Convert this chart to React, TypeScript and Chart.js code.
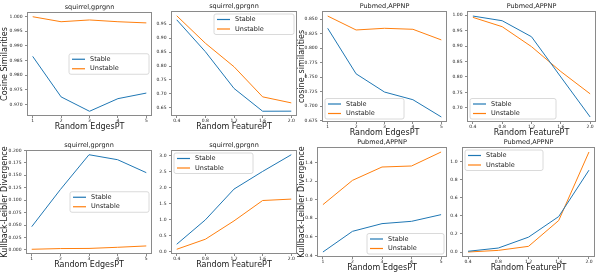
import React, { useEffect, useRef } from "react";
import { Chart, registerables } from "chart.js";

Chart.register(...registerables);

// ---------- data ----------
const edgesX = [1, 2, 3, 4, 5];
const featureX = [0.4, 0.8, 1.2, 1.6, 2.0];
const edgesTickLabels = ["1", "2", "3", "4", "5"];
const featureTickLabels = ["0.4", "0.8", "1.2", "1.6", "2.0"];
const seriesNames = ["Stable", "Unstable"];

const sqCosEdgesStable = [0.9864, 0.9726, 0.9677, 0.972, 0.9739];
const sqCosEdgesUnstable = [0.9999, 0.9982, 0.9988, 0.9982, 0.9978];
const sqCosFeatStable = [0.9655, 0.8514, 0.7198, 0.6381, 0.6383];
const sqCosFeatUnstable = [0.98, 0.8817, 0.7975, 0.6896, 0.668];
const pmCosEdgesStable = [0.834, 0.7556, 0.7242, 0.711, 0.6813];
const pmCosEdgesUnstable = [0.8551, 0.8311, 0.834, 0.8323, 0.814];
const pmCosFeatStable = [0.9968, 0.9817, 0.93, 0.8, 0.671];
const pmCosFeatUnstable = [0.9926, 0.9624, 0.898, 0.8177, 0.7457];
const sqKlEdgesStable = [0.0467, 0.1213, 0.1913, 0.1813, 0.1553];
const sqKlEdgesUnstable = [0.0013, 0.0027, 0.003, 0.0053, 0.008];
const sqKlFeatStable = [0.232, 0.994, 1.956, 2.508, 3.03];
const sqKlFeatUnstable = [0.075, 0.389, 0.962, 1.599, 1.643];
const pmKlEdgesStable = [0.436, 0.659, 0.742, 0.767, 0.839];
const pmKlEdgesUnstable = [0.947, 1.209, 1.353, 1.364, 1.515];
const pmKlFeatStable = [0.008, 0.044, 0.165, 0.394, 0.909];
const pmKlFeatUnstable = [0.0, 0.018, 0.063, 0.35, 1.111];

const yTicksSqCosEdges = ["0.970", "0.975", "0.980", "0.985", "0.990", "0.995", "1.000"];
const yTicksSqCosFeat = ["0.65", "0.70", "0.75", "0.80", "0.85", "0.90", "0.95"];
const yTicksPmCosEdges = ["0.675", "0.700", "0.725", "0.750", "0.775", "0.800", "0.825", "0.850"];
const yTicksPmCosFeat = ["0.70", "0.75", "0.80", "0.85", "0.90", "0.95", "1.00"];
const yTicksSqKlEdges = ["0.000", "0.025", "0.050", "0.075", "0.100", "0.125", "0.150", "0.175", "0.200"];
const yTicksSqKlFeat = ["0.0", "0.5", "1.0", "1.5", "2.0", "2.5", "3.0"];
const yTicksPmKlEdges = ["0.4", "0.6", "0.8", "1.0", "1.2", "1.4"];
const yTicksPmKlFeat = ["0.0", "0.2", "0.4", "0.6", "0.8", "1.0"];

// ---------- styling ----------
const FAMILY = '"DejaVu Sans", sans-serif';
const TXT = "#1a1a1a";
const FRAME = "#8a8a8a";
const C0 = "#1f77b4";
const C1 = "#ff7f0e";
const PAD_T = 14;
const PAD_R = 8;
const PAD_B = 16;

type Panel = {
  rect: [number, number, number, number];
  padL: number;
  title: string;
  xLabel: string;
  yLabel?: string;
  xs: number[];
  xTicks: string[];
  yTicks: string[];
  stable: number[];
  unstable: number[];
  legendLoc: string;
  legendW: number;
};

const panels: Panel[] = [
  { rect: [27, 12, 152, 116], padL: 27, title: "squirrel,gprgnn", xLabel: "Random EdgesPT", yLabel: "Cosine Similarities", xs: edgesX, xTicks: edgesTickLabels, yTicks: yTicksSqCosEdges, stable: sqCosEdgesStable, unstable: sqCosEdgesUnstable, legendLoc: "center right", legendW: 80 },
  { rect: [171, 11, 297, 116], padL: 20, title: "squirrel,gprgnn", xLabel: "Random FeaturePT", xs: featureX, xTicks: featureTickLabels, yTicks: yTicksSqCosFeat, stable: sqCosFeatStable, unstable: sqCosFeatUnstable, legendLoc: "upper right", legendW: 80 },
  { rect: [322, 11, 447, 122], padL: 25, title: "Pubmed,APPNP", xLabel: "Random EdgesPT", yLabel: "cosine_similarities", xs: edgesX, xTicks: edgesTickLabels, yTicks: yTicksPmCosEdges, stable: pmCosEdgesStable, unstable: pmCosEdgesUnstable, legendLoc: "lower left", legendW: 79 },
  { rect: [467, 11, 596, 122], padL: 20, title: "Pubmed,APPNP", xLabel: "Random FeaturePT", xs: featureX, xTicks: featureTickLabels, yTicks: yTicksPmCosFeat, stable: pmCosFeatStable, unstable: pmCosFeatUnstable, legendLoc: "lower left", legendW: 86 },
  { rect: [26, 150, 152, 254], padL: 26, title: "squirrel,gprgnn", xLabel: "Random EdgesPT", yLabel: "Kullback-Leibler Divergence", xs: edgesX, xTicks: edgesTickLabels, yTicks: yTicksSqKlEdges, stable: sqKlEdgesStable, unstable: sqKlEdgesUnstable, legendLoc: "center right", legendW: 79 },
  { rect: [171, 150, 297, 254], padL: 20, title: "squirrel,gprgnn", xLabel: "Random FeaturePT", xs: featureX, xTicks: featureTickLabels, yTicks: yTicksSqKlFeat, stable: sqKlFeatStable, unstable: sqKlFeatUnstable, legendLoc: "upper left", legendW: 79 },
  { rect: [317, 147, 447, 257], padL: 20, title: "Pubmed,APPNP", xLabel: "Random EdgesPT", yLabel: "Kullback-Leibler Divergence", xs: edgesX, xTicks: edgesTickLabels, yTicks: yTicksPmKlEdges, stable: pmKlEdgesStable, unstable: pmKlEdgesUnstable, legendLoc: "lower right", legendW: 77 },
  { rect: [462, 147, 595, 257], padL: 20, title: "Pubmed,APPNP", xLabel: "Random FeaturePT", xs: featureX, xTicks: featureTickLabels, yTicks: yTicksPmKlFeat, stable: pmKlFeatStable, unstable: pmKlFeatUnstable, legendLoc: "upper left", legendW: 78 },
];

const extrasPlugin = {
  id: "extras",
  afterDatasetsDraw(chart: any, _args: any, opts: any) {
    const { ctx, chartArea: a } = chart;
    ctx.save();
    // frame
    ctx.strokeStyle = FRAME;
    ctx.lineWidth = 1;
    ctx.strokeRect(a.left + 0.5, a.top + 0.5, a.right - a.left - 1, a.bottom - a.top - 1);
    // title
    ctx.fillStyle = TXT;
    ctx.font = `6.5px ${FAMILY}`;
    ctx.textAlign = "center";
    ctx.textBaseline = "middle";
    ctx.fillText(opts.title, (a.left + a.right) / 2, a.top - 5);
    // legend
    const w = opts.legendW;
    const h = 20.5;
    const pad = 3;
    const loc: string = opts.legendLoc;
    let bx = a.left + pad;
    let by = a.top + pad;
    if (loc.includes("right")) bx = a.right - pad - w;
    if (loc.includes("lower")) by = a.bottom - pad - h;
    if (loc.startsWith("center")) by = (a.top + a.bottom) / 2 - h / 2;
    ctx.beginPath();
    const r = 2;
    ctx.moveTo(bx + r, by);
    ctx.lineTo(bx + w - r, by);
    ctx.quadraticCurveTo(bx + w, by, bx + w, by + r);
    ctx.lineTo(bx + w, by + h - r);
    ctx.quadraticCurveTo(bx + w, by + h, bx + w - r, by + h);
    ctx.lineTo(bx + r, by + h);
    ctx.quadraticCurveTo(bx, by + h, bx, by + h - r);
    ctx.lineTo(bx, by + r);
    ctx.quadraticCurveTo(bx, by, bx + r, by);
    ctx.closePath();
    ctx.fillStyle = "rgba(255,255,255,0.8)";
    ctx.fill();
    ctx.strokeStyle = "#d0d0d0";
    ctx.lineWidth = 0.8;
    ctx.stroke();
    chart.data.datasets.forEach((ds: any, i: number) => {
      const y = by + 5.5 + i * 9.5;
      ctx.strokeStyle = ds.borderColor;
      ctx.lineWidth = 1.2;
      ctx.beginPath();
      ctx.moveTo(bx + 3, y);
      ctx.lineTo(bx + 16, y);
      ctx.stroke();
      ctx.fillStyle = TXT;
      ctx.font = `6.5px ${FAMILY}`;
      ctx.textAlign = "left";
      ctx.textBaseline = "middle";
      ctx.fillText(ds.label, bx + 21, y);
    });
    ctx.restore();
  },
};

function PanelChart({ p }: { p: Panel }) {
  const ref = useRef<HTMLCanvasElement | null>(null);
  const [l, t, r, b] = p.rect;
  const W = r - l + p.padL + PAD_R;
  const H = b - t + PAD_T + PAD_B;

  useEffect(() => {
    if (!ref.current) return;
    const all = [...p.stable, ...p.unstable];
    const lo = Math.min(...all);
    const hi = Math.max(...all);
    const my = (hi - lo) * 0.05;
    const xlo = Math.min(...p.xs);
    const xhi = Math.max(...p.xs);
    const mx = (xhi - xlo) * 0.05;
    const xTickVals = p.xTicks.map((s) => parseFloat(s));
    const yTickVals = p.yTicks.map((s) => parseFloat(s));
    const tickFont = { size: 4.5, family: FAMILY, lineHeight: 1.2 };
    const labelFont = { size: 8, family: FAMILY, lineHeight: 1.2 };
    const chart = new Chart(ref.current, {
      type: "line",
      data: {
        datasets: [
          { label: seriesNames[0], data: p.xs.map((x, i) => ({ x, y: p.stable[i] })), borderColor: C0, backgroundColor: C0, borderWidth: 1, pointRadius: 0, tension: 0, fill: false },
          { label: seriesNames[1], data: p.xs.map((x, i) => ({ x, y: p.unstable[i] })), borderColor: C1, backgroundColor: C1, borderWidth: 1, pointRadius: 0, tension: 0, fill: false },
        ],
      },
      options: {
        animation: false,
        responsive: false,
        devicePixelRatio: 1,
        layout: { padding: { left: 0, top: PAD_T, right: PAD_R, bottom: 0 } },
        plugins: {
          legend: { display: false },
          title: { display: false },
          tooltip: { enabled: false },
          extras: { title: p.title, legendLoc: p.legendLoc, legendW: p.legendW },
        } as any,
        scales: {
          x: {
            type: "linear",
            min: xlo - mx,
            max: xhi + mx,
            afterBuildTicks: (s: any) => {
              s.ticks = xTickVals.map((v) => ({ value: v }));
            },
            afterFit: (s: any) => {
              s.height = PAD_B;
            },
            ticks: { font: tickFont, color: TXT, padding: 0.5, maxRotation: 0, autoSkip: false, callback: (_v: any, i: number) => p.xTicks[i] },
            grid: { display: true, drawOnChartArea: false, drawTicks: true, tickLength: 2, color: FRAME, lineWidth: 1 },
            border: { display: false },
            title: { display: true, text: p.xLabel, font: labelFont, color: TXT, padding: 0 },
          },
          y: {
            type: "linear",
            min: lo - my,
            max: hi + my,
            afterBuildTicks: (s: any) => {
              s.ticks = yTickVals.map((v) => ({ value: v }));
            },
            afterFit: (s: any) => {
              s.width = p.padL;
            },
            ticks: { font: tickFont, color: TXT, padding: 2.5, autoSkip: false, callback: (_v: any, i: number) => p.yTicks[i] },
            grid: { display: true, drawOnChartArea: false, drawTicks: true, tickLength: 2, color: FRAME, lineWidth: 1 },
            border: { display: false },
            title: { display: !!p.yLabel, text: p.yLabel || "", font: labelFont, color: TXT, padding: 0 },
          },
        },
      } as any,
      plugins: [extrasPlugin],
    });
    return () => chart.destroy();
  }, [p]);

  return (
    <canvas
      ref={ref}
      width={W}
      height={H}
      style={{ position: "absolute", left: l - p.padL, top: t - PAD_T, width: W, height: H }}
    />
  );
}

export default function App() {
  return (
    <div style={{ position: "fixed", left: 0, top: 0, width: 598, height: 275, overflow: "hidden", background: "#ffffff" }}>
      {panels.map((p, i) => (
        <PanelChart key={i} p={p} />
      ))}
    </div>
  );
}
